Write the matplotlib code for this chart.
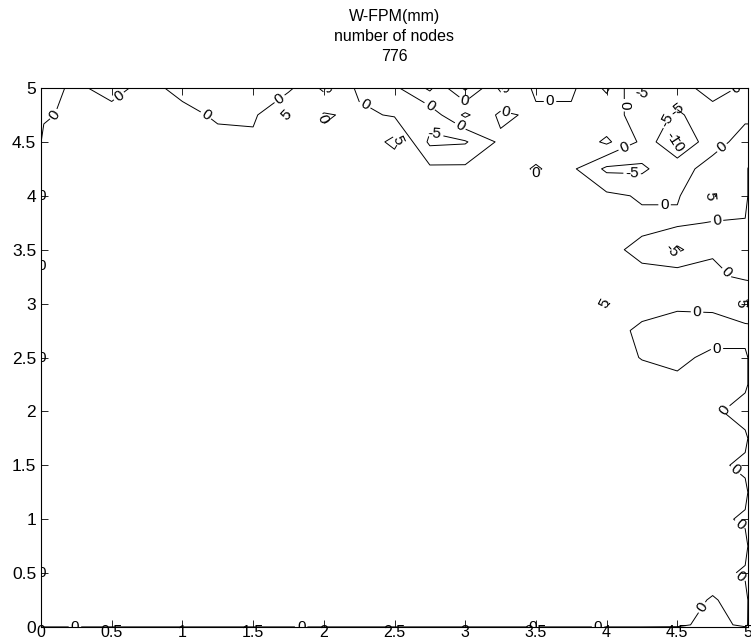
import numpy as np
import matplotlib
matplotlib.use("Agg")
import matplotlib.pyplot as plt

plt.rcParams['font.family'] = ['Liberation Sans', 'DejaVu Sans']

# grid coordinates (extra node lines at 0.02 / 4.98 hug the boundary)
x_nodes = [0.0, 0.02, 0.25, 0.5, 0.75, 1.0, 1.25, 1.5, 1.75, 2.0, 2.25, 2.5,
           2.75, 3.0, 3.25, 3.5, 3.75, 4.0, 4.25, 4.5, 4.75, 4.98, 5.0]
y_nodes = [5.0, 4.75, 4.5, 4.25, 4.0, 3.75, 3.5, 3.25, 3.0, 2.75, 2.5,
           2.25, 2.0, 1.75, 1.5, 1.25, 1.0, 0.75, 0.5, 0.25, 0.02, 0.0]

# W-FPM (mm) values, rows from y=5 (top) to y=0 (bottom)
w_rows = [
    [-1, -0.9, 0.5, -1, 1, -1, -1, -1, -1, 6, -1, -1, 6, -6, 6, -1, -1, 6, -6, -1, 1, -0.4, -0.5],
    [-0.6, -0.5, 1, 1, 1, 1, -0.5, -0.8, 5.3, -0.5, 1, -0.5, -3, 6, -1, 1, 1, 1, -1, -6, -1, -0.5, -0.5],
    [-0.05, 1, 1, 1, 1, 1, 1, 1, 1, 1, 1, 6.5, -6, -5.5, 1, 1, 1, 6, -1, -11, -1, 1, 1],
    [-0.05, 1, 1, 1, 1, 1, 1, 1, 1, 1, 1, 1, 1, 1, 1, -0.2, 1, -6, -6, -1, 1, 1, -0.05],
    [-0.05, 1, 1, 1, 1, 1, 1, 1, 1, 1, 1, 1, 1, 1, 1, 1, 1, 1, -0.5, -0.5, 5.5, 1, -0.05],
    [-0.05, 1, 1, 1, 1, 1, 1, 1, 1, 1, 1, 1, 1, 1, 1, 1, 1, 1, 1, 1, -0.3, -0.2, -0.05],
    [-0.05, 1, 1, 1, 1, 1, 1, 1, 1, 1, 1, 1, 1, 1, 1, 1, 1, 1, -1, -6, -0.5, -0.9, -1],
    [-0.05, 1, 1, 1, 1, 1, 1, 1, 1, 1, 1, 1, 1, 1, 1, 1, 1, 1, 1, 3, 1, -0.8, -1],
    [-0.05, 1, 1, 1, 1, 1, 1, 1, 1, 1, 1, 1, 1, 1, 1, 1, 1, 5.4, 1, 1, 1, 5.6, 6],
    [-0.05, 1, 1, 1, 1, 1, 1, 1, 1, 1, 1, 1, 1, 1, 1, 1, 1, 1, -0.5, -2.5, -2, -2, -2],
    [-0.05, 1, 1, 1, 1, 1, 1, 1, 1, 1, 1, 1, 1, 1, 1, 1, 1, 1, -0.1, -1, 1, 1, -0.05],
    [-0.05, 1, 1, 1, 1, 1, 1, 1, 1, 1, 1, 1, 1, 1, 1, 1, 1, 1, 1, 1, 1, 1, -0.05],
    [-0.05, 1, 1, 1, 1, 1, 1, 1, 1, 1, 1, 1, 1, 1, 1, 1, 1, 1, 1, 1, 1, -2.2, -2.5],
    [-0.05, 1, 1, 1, 1, 1, 1, 1, 1, 1, 1, 1, 1, 1, 1, 1, 1, 1, 1, 1, 1, 1, -0.05],
    [-0.05, 1, 1, 1, 1, 1, 1, 1, 1, 1, 1, 1, 1, 1, 1, 1, 1, 1, 1, 1, 1, -0.9, -1.1],
    [-0.05, 1, 1, 1, 1, 1, 1, 1, 1, 1, 1, 1, 1, 1, 1, 1, 1, 1, 1, 1, 1, 1, -0.05],
    [-0.05, 1, 1, 1, 1, 1, 1, 1, 1, 1, 1, 1, 1, 1, 1, 1, 1, 1, 1, 1, 1, -0.55, -0.7],
    [-0.05, 1, 1, 1, 1, 1, 1, 1, 1, 1, 1, 1, 1, 1, 1, 1, 1, 1, 1, 1, 1, 1, -0.05],
    [-0.05, 1, 1, 1, 1, 1, 1, 1, 1, 1, 1, 1, 1, 1, 1, 1, 1, 1, 1, 1, 1, -0.4, -0.5],
    [-0.05, 1, 1, 1, 1, 1, 1, 1, 1, 1, 1, 1, 1, 1, 1, 1, 1, 1, 1, 1, -0.2, 1, -0.05],
    [-0.05, 1, 1, 1, 1, 1, 1, 1, 1, 1, 1, 1, 1, 1, 1, 1, 1, 1, 1, 0.3, -0.5, 0.3, -0.05],
    [-0.05, -0.05, -0.05, -0.05, -0.05, -0.05, -0.05, -0.05, -0.05, -0.05, -0.05, -0.05,
     -0.05, -0.05, -0.05, -0.05, -0.05, -0.05, -0.05, -0.05, -0.05, -0.05, -0.05],
]

contour_levels = [-10, -5, 0, 5]
title_lines = ["W-FPM(mm)", "number of nodes", "776"]
tick_values = [0, 0.5, 1, 1.5, 2, 2.5, 3, 3.5, 4, 4.5, 5]
tick_labels = ["0", "0.5", "1", "1.5", "2", "2.5", "3", "3.5", "4", "4.5", "5"]

# approximate positions of contour labels seen in the reference
label_spots = [
    (0.10, 4.75), (0.56, 4.91), (1.25, 4.89), (1.67, 4.93), (2.06, 4.95),
    (1.74, 4.75), (2.0, 4.72), (2.29, 4.84), (2.5, 4.5), (2.77, 4.87),
    (2.79, 4.6), (2.97, 4.84), (2.98, 4.68), (3.28, 4.77), (3.34, 4.93),
    (3.6, 4.81), (3.5, 4.21), (4.05, 4.84), (4.24, 4.82), (4.5, 4.91),
    (4.43, 4.7), (4.46, 4.46), (4.1, 4.52), (4.18, 4.19), (4.82, 4.44),
    (4.98, 4.86), (4.41, 3.94), (4.71, 3.98), (4.78, 3.78), (4.46, 3.48),
    (4.82, 3.25), (3.97, 3.03), (4.64, 2.94), (4.89, 3.01), (4.78, 2.64),
    (4.82, 2.04), (4.87, 1.39), (4.89, 0.87), (4.93, 0.44), (4.63, 0.22),
    (0.24, 0.0), (1.84, 0.0), (3.48, 0.0), (3.94, 0.0),
    (0.0, 4.0), (0.0, 3.35), (0.0, 2.5), (0.0, 0.5),
]

X, Y = np.meshgrid(np.array(x_nodes), np.array(y_nodes))
Z = np.array(w_rows, dtype=float)

fig = plt.figure(figsize=(7.51, 6.39), dpi=100)
ax = fig.add_axes([41 / 751, 12 / 639, 707 / 751, 539 / 639])

cs = ax.contour(X, Y, Z, levels=contour_levels, colors='black',
                linewidths=0.7, linestyles='solid')
ax.clabel(cs, fmt='%g', fontsize=11, inline=True, inline_spacing=2,
          manual=label_spots)
for t in cs.labelTexts:
    t.set_clip_on(True)
    px, py = t.get_position()
    if px < 0.06:
        t.set_rotation(0)

ax.set_xlim(0, 5)
ax.set_ylim(0, 5)
ax.set_xticks(tick_values)
ax.set_xticklabels(tick_labels)
ax.set_yticks(tick_values)
ax.set_yticklabels(tick_labels)
ax.tick_params(direction='in', top=True, right=True, length=5, width=0.6)
ax.tick_params(axis='x', labelsize=11.5, pad=-1.2)
ax.tick_params(axis='y', labelsize=12.5, pad=3.5)
for s in ax.spines.values():
    s.set_linewidth(0.8)
ax.set_title("\n".join(title_lines), fontsize=11.5, linespacing=1.4, pad=19.5)

fig.savefig("out.png", dpi=100)
